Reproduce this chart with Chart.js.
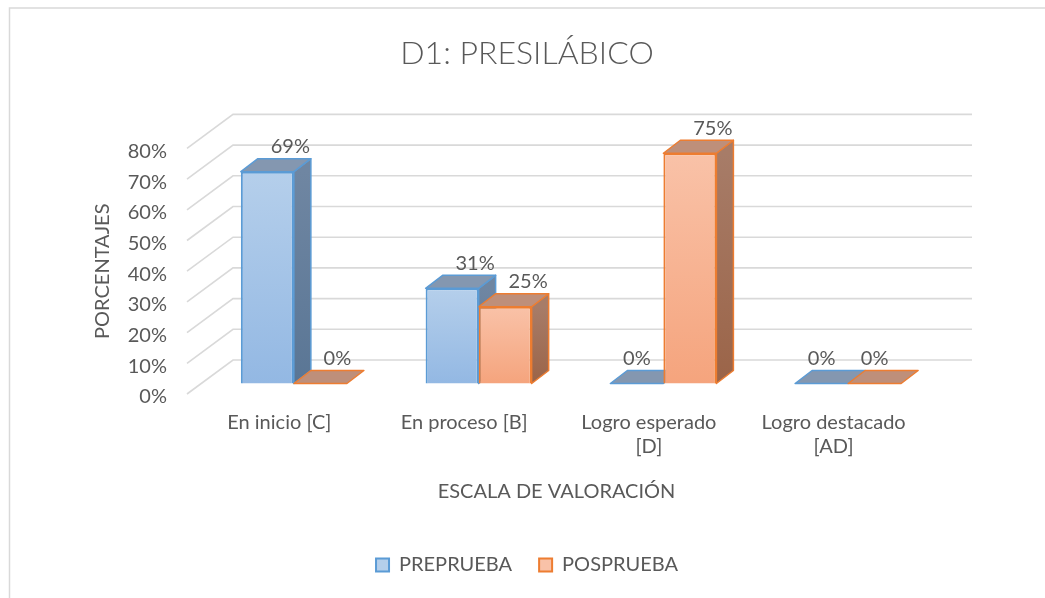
<!DOCTYPE html>
<html>
<head>
<meta charset="utf-8">
<script src="https://cdn.jsdelivr.net/npm/chart.js@4"></script>
<style>
  html, body { margin: 0; padding: 0; background: #fff; }
  #chart { display: block; }
</style>
</head>
<body>
<canvas id="chart" width="1045" height="598"></canvas>
<script>
const categories = [['En inicio [C]'], ['En proceso [B]'], ['Logro esperado', '[D]'], ['Logro destacado', '[AD]']];
const seriesNames = ['PREPRUEBA', 'POSPRUEBA'];
const preprueba = [69, 31, 0, 0];
const posprueba = [0, 25, 75, 0];
const yMin = 0, yMax = 80, yStep = 10;

// fake 3D depth (excel style)
const FRONT = { dx: 14.5, dy: -10.5 };
const BAR = { dx: 17, dy: -13 };
const WALL = { dx: 46, dy: -34 };

const TEXT = '#595959';
const FONT = 'Lato, "Open Sans", sans-serif';

const look = [
    { border: '#5b9bd5', front: ['#b5cfeb', '#93b8e3'], side: ['#6f86a2', '#5a7695'], top: '#8497b0' },
    { border: '#ed7d31', front: ['#f9c2a8', '#f5a47d'], side: ['#a77c68', '#9b6448'], top: '#be8f7a' }
];

function frontGradient(ctx, i) {
    const chart = ctx.chart;
    const y = chart.scales.y;
    if (!y || ctx.parsed === undefined) return look[i].front[1];
    const top = y.getPixelForValue(ctx.parsed.y);
    const base = y.getPixelForValue(0);
    if (base - top < 1) return look[i].front[1];
    const g = chart.ctx.createLinearGradient(0, top, 0, base);
    g.addColorStop(0, look[i].front[0]);
    g.addColorStop(1, look[i].front[1]);
    return g;
}

function drawFaces(ctx, bar, c) {
    const p = bar.getProps(['x', 'y', 'base', 'width'], true);
    const x1 = p.x - p.width / 2, x2 = p.x + p.width / 2;
    const top = Math.min(p.y, p.base), bot = Math.max(p.y, p.base);
    ctx.save();
    ctx.lineJoin = 'round';
    ctx.lineWidth = 1.5;
    ctx.strokeStyle = c.border;
    if (bot - top > 0.5) {
        const g = ctx.createLinearGradient(0, top, 0, bot);
        g.addColorStop(0, c.side[0]);
        g.addColorStop(1, c.side[1]);
        ctx.beginPath();
        ctx.moveTo(x2, top);
        ctx.lineTo(x2 + BAR.dx, top + BAR.dy);
        ctx.lineTo(x2 + BAR.dx, bot + BAR.dy);
        ctx.lineTo(x2, bot);
        ctx.closePath();
        ctx.fillStyle = g;
        ctx.fill();
        ctx.stroke();
    }
    ctx.beginPath();
    ctx.moveTo(x1, top);
    ctx.lineTo(x1 + BAR.dx, top + BAR.dy);
    ctx.lineTo(x2 + BAR.dx, top + BAR.dy);
    ctx.lineTo(x2, top);
    ctx.closePath();
    ctx.fillStyle = c.top;
    ctx.fill();
    ctx.stroke();
    ctx.restore();
}

const fake3d = {
    id: 'fake3d',
    beforeDraw(chart) {
        const ctx = chart.ctx;
        ctx.save();
        ctx.fillStyle = '#fff';
        ctx.fillRect(0, 0, chart.width, chart.height);
        ctx.strokeStyle = '#d9d9d9';
        ctx.lineWidth = 1.5;
        ctx.strokeRect(9.5, 8, chart.width + 20, chart.height + 20);
        ctx.restore();
    },
    beforeDatasetsDraw(chart) {
        const ctx = chart.ctx;
        const a = chart.chartArea;
        const y = chart.scales.y;
        ctx.save();
        ctx.strokeStyle = '#d9d9d9';
        ctx.lineWidth = 1.6;
        y.ticks.forEach(t => {
            const py = y.getPixelForValue(t.value);
            ctx.beginPath();
            ctx.moveTo(a.left, py);
            ctx.lineTo(a.left + WALL.dx, py + WALL.dy);
            ctx.lineTo(a.right + WALL.dx, py + WALL.dy);
            ctx.stroke();
        });
        ctx.restore();
        // bars sit a bit deeper than the front plane; sides and tops go first,
        // the library then paints the front faces over them
        ctx.save();
        ctx.translate(FRONT.dx, FRONT.dy);
        chart.data.datasets.forEach((ds, di) => {
            chart.getDatasetMeta(di).data.forEach(bar => drawFaces(ctx, bar, look[di]));
        });
    },
    afterDatasetsDraw(chart) {
        const ctx = chart.ctx;
        ctx.restore();
        ctx.save();
        ctx.font = '20px ' + FONT;
        ctx.fillStyle = TEXT;
        ctx.textAlign = 'center';
        ctx.textBaseline = 'middle';
        chart.data.datasets.forEach((ds, di) => {
            const meta = chart.getDatasetMeta(di);
            meta.data.forEach((bar, i) => {
                const v = ds.data[i];
                let off = v > 0 ? 23 : 0;
                if (v === 0 && di > 0 && chart.data.datasets[di - 1].data[i] > 0) off = BAR.dx;
                ctx.fillText(v + '%', bar.x + FRONT.dx + off, bar.y + FRONT.dy - 25);
            });
        });
        ctx.restore();
    }
};

new Chart(document.getElementById('chart'), {
    type: 'bar',
    data: {
        labels: categories,
        datasets: [
            {
                label: seriesNames[0],
                data: preprueba,
                backgroundColor: c => frontGradient(c, 0),
                borderColor: look[0].border,
                borderWidth: 2,
                clip: false
            },
            {
                label: seriesNames[1],
                data: posprueba,
                backgroundColor: c => frontGradient(c, 1),
                borderColor: look[1].border,
                borderWidth: 2,
                clip: false
            }
        ]
    },
    options: {
        responsive: false,
        animation: false,
        devicePixelRatio: 1,
        categoryPercentage: 0.574,
        barPercentage: 1,
        layout: { padding: { left: 9, right: 0, top: 0, bottom: 13 } },
        plugins: {
            title: {
                display: true,
                text: 'D1: PRESILÁBICO',
                color: TEXT,
                font: { family: FONT, size: 32, weight: 300 },
                padding: { top: 34, bottom: 76 }
            },
            legend: {
                position: 'bottom',
                labels: {
                    color: TEXT,
                    font: { family: FONT, size: 20 },
                    boxWidth: 13,
                    boxHeight: 13,
                    padding: 27,
                    generateLabels: () => seriesNames.map((n, i) => ({
                        text: n,
                        fillStyle: look[i].front[0],
                        strokeStyle: look[i].border,
                        lineWidth: 2,
                        fontColor: TEXT,
                        hidden: false,
                        datasetIndex: i
                    }))
                }
            },
            tooltip: { enabled: false }
        },
        scales: {
            x: {
                grid: { display: false, drawTicks: false },
                border: { display: false },
                ticks: { color: TEXT, font: { family: FONT, size: 20 }, padding: 17, maxRotation: 0, autoSkip: false },
                title: {
                    display: true,
                    text: 'ESCALA DE VALORACIÓN',
                    color: TEXT,
                    font: { family: FONT, size: 20 },
                    padding: { top: 0, bottom: 24 }
                },
                afterFit: s => { s.height = 134; }
            },
            y: {
                min: yMin,
                max: yMax,
                grid: { display: false, drawTicks: false },
                border: { display: false },
                ticks: {
                    stepSize: yStep,
                    color: TEXT,
                    font: { family: FONT, size: 20 },
                    padding: 20,
                    labelOffset: 3,
                    callback: v => v + '%'
                },
                title: {
                    display: true,
                    text: 'PORCENTAJES',
                    color: TEXT,
                    font: { family: FONT, size: 20 },
                    padding: { top: 82, bottom: 0 }
                },
                afterFit: s => { s.width = 178; }
            },
            // empty right-hand margin so the front plane ends where the reference does
            yRight: {
                position: 'right',
                display: true,
                grid: { display: false, drawTicks: false },
                border: { display: false },
                ticks: { display: false },
                afterFit: s => { s.width = 119; }
            }
        }
    },
    plugins: [fake3d]
});
</script>
</body>
</html>
